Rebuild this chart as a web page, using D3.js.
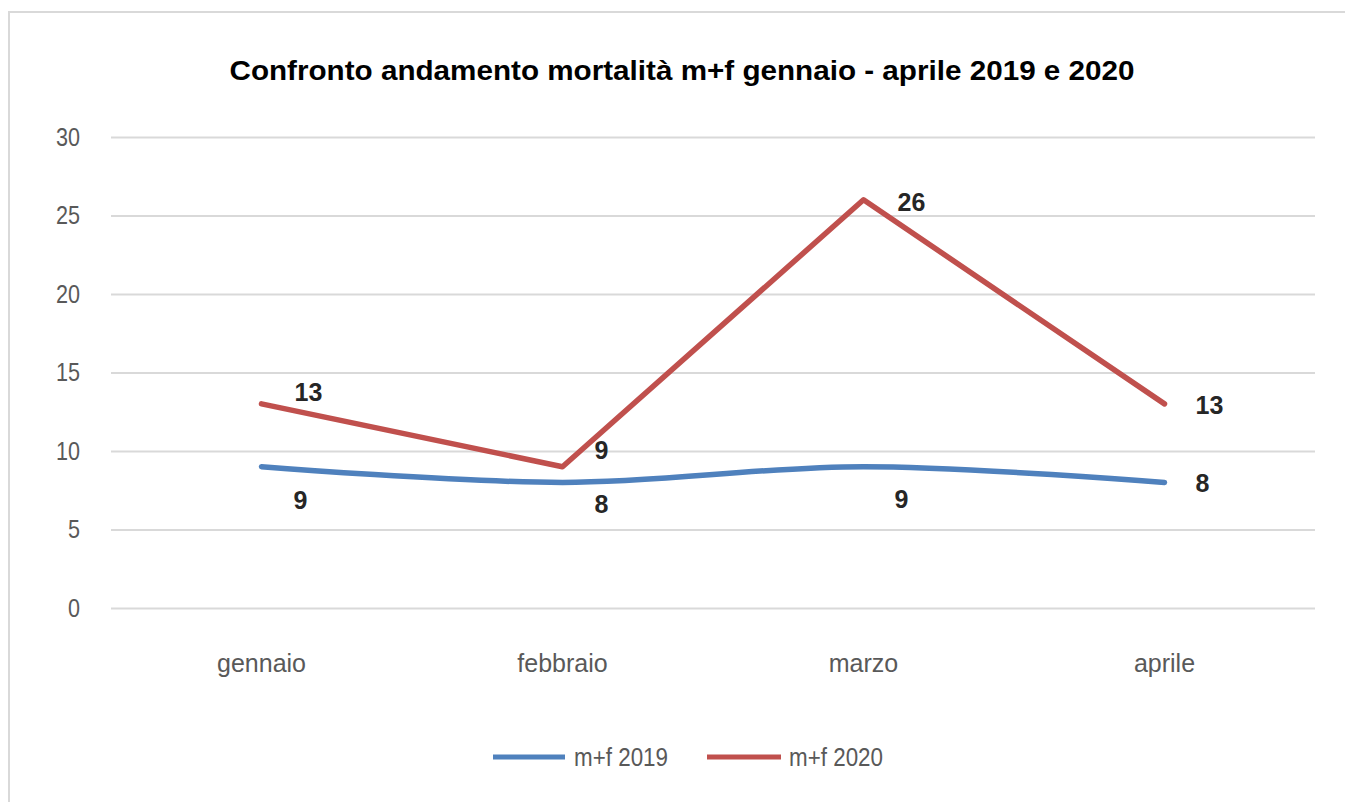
<html lang="it">
<head>
    <meta charset="UTF-8">
    <title>Confronto andamento mortalità</title>
    <script src="https://d3js.org/d3.v7.min.js"></script>
    <style>
        body { margin: 0; background: #fff; }
        text { font-family: "Liberation Sans", Arial, sans-serif; }
    </style>
</head>
<body>
    <div id="chart"></div>
    <script>
        // dati
        var categories = ["gennaio", "febbraio", "marzo", "aprile"];
        var values2019 = [9, 8, 9, 8];
        var values2020 = [13, 9, 26, 13];
        var seriesNames = ["m+f 2019", "m+f 2020"];
        var yTicks = [0, 5, 10, 15, 20, 25, 30];
        var title = "Confronto andamento mortalità m+f gennaio - aprile 2019 e 2020";

        var width = 1345, height = 802;
        var plotLeft = 111, plotRight = 1315, plotTop = 137, plotBottom = 608;
        var colors = ["#4F81BD", "#C0504D"];

        var svg = d3.select("#chart").append("svg")
            .attr("width", width)
            .attr("height", height);

        // bordo del grafico
        svg.append("rect")
            .attr("x", 9).attr("y", 12)
            .attr("width", 1400).attr("height", 900)
            .attr("fill", "#fff")
            .attr("stroke", "#D9D9D9")
            .attr("stroke-width", 2);

        svg.append("text")
            .attr("x", 682).attr("y", 80)
            .attr("text-anchor", "middle")
            .attr("textLength", 905)
            .attr("lengthAdjust", "spacingAndGlyphs")
            .style("font-weight", "bold")
            .style("font-size", "27px")
            .attr("fill", "#000")
            .text(title);

        var x = d3.scaleBand().domain(categories).range([plotLeft, plotRight]);
        var y = d3.scaleLinear().domain([0, 30]).range([plotBottom, plotTop]);
        function cx(d, i) { return x(categories[i]) + x.bandwidth() / 2; }

        // griglia + etichette asse y
        var yAxis = svg.append("g")
            .attr("transform", "translate(" + plotLeft + ",0)")
            .call(d3.axisLeft(y).tickValues(yTicks).tickSize(-(plotRight - plotLeft)).tickPadding(31));
        yAxis.select(".domain").remove();
        yAxis.selectAll("line").attr("stroke", "#D9D9D9").attr("stroke-width", 2);
        // cifre strette come nell'originale
        yAxis.selectAll("text")
            .attr("fill", "#595959")
            .style("font-size", "25px")
            .style("font-family", "'Liberation Sans', Arial, sans-serif")
            .each(function() {
                var t = d3.select(this);
                t.attr("textLength", t.text().length * 12).attr("lengthAdjust", "spacingAndGlyphs");
            });

        // etichette categorie
        var xAxis = svg.append("g")
            .attr("transform", "translate(0," + plotBottom + ")")
            .call(d3.axisBottom(x).tickSize(0).tickPadding(0));
        xAxis.select(".domain").remove();
        xAxis.selectAll("text")
            .attr("dy", 0)
            .attr("y", 64)
            .attr("fill", "#595959")
            .style("font-size", "25px")
            .style("font-family", "'Liberation Sans', Arial, sans-serif");

        var line2019 = d3.line().x(cx).y(function(d) { return y(d); }).curve(d3.curveCatmullRom.alpha(0.5));
        var line2020 = d3.line().x(cx).y(function(d) { return y(d); });

        svg.append("path").datum(values2019)
            .attr("d", line2019)
            .attr("fill", "none")
            .attr("stroke", colors[0])
            .attr("stroke-width", 5.5)
            .attr("stroke-linejoin", "round")
            .attr("stroke-linecap", "round");

        svg.append("path").datum(values2020)
            .attr("d", line2020)
            .attr("fill", "none")
            .attr("stroke", colors[1])
            .attr("stroke-width", 5.5)
            .attr("stroke-linejoin", "round")
            .attr("stroke-linecap", "round");

        // etichette dati (spostamenti come nell'originale)
        var off2019 = [[39, 34], [39, 22], [38, 33], [38, 1]];
        var off2020 = [[47, -12], [39, -16], [48, 2], [45, 1]];

        function drawLabels(vals, off) {
            svg.append("g").selectAll("text")
                .data(vals)
                .enter().append("text")
                .attr("x", function(d, i) { return cx(d, i) + off[i][0]; })
                .attr("y", function(d, i) { return y(d) + off[i][1]; })
                .attr("dy", "0.35em")
                .attr("text-anchor", "middle")
                .style("font-weight", "bold")
                .style("font-size", "25px")
                .attr("fill", "#262626")
                .text(function(d) { return d; });
        }
        drawLabels(values2019, off2019);
        drawLabels(values2020, off2020);

        // legenda
        var legendX = [[493, 565, 574], [707, 781, 789]];
        var legendY = 757;
        seriesNames.forEach(function(name, i) {
            svg.append("line")
                .attr("x1", legendX[i][0]).attr("x2", legendX[i][1])
                .attr("y1", legendY).attr("y2", legendY)
                .attr("stroke", colors[i])
                .attr("stroke-width", 5);
            svg.append("text")
                .attr("x", legendX[i][2]).attr("y", legendY)
                .attr("dy", "0.35em")
                .attr("fill", "#595959")
                .style("font-size", "25px")
                .attr("textLength", 94)
                .attr("lengthAdjust", "spacingAndGlyphs")
                .text(name);
        });
    </script>
</body>
</html>
